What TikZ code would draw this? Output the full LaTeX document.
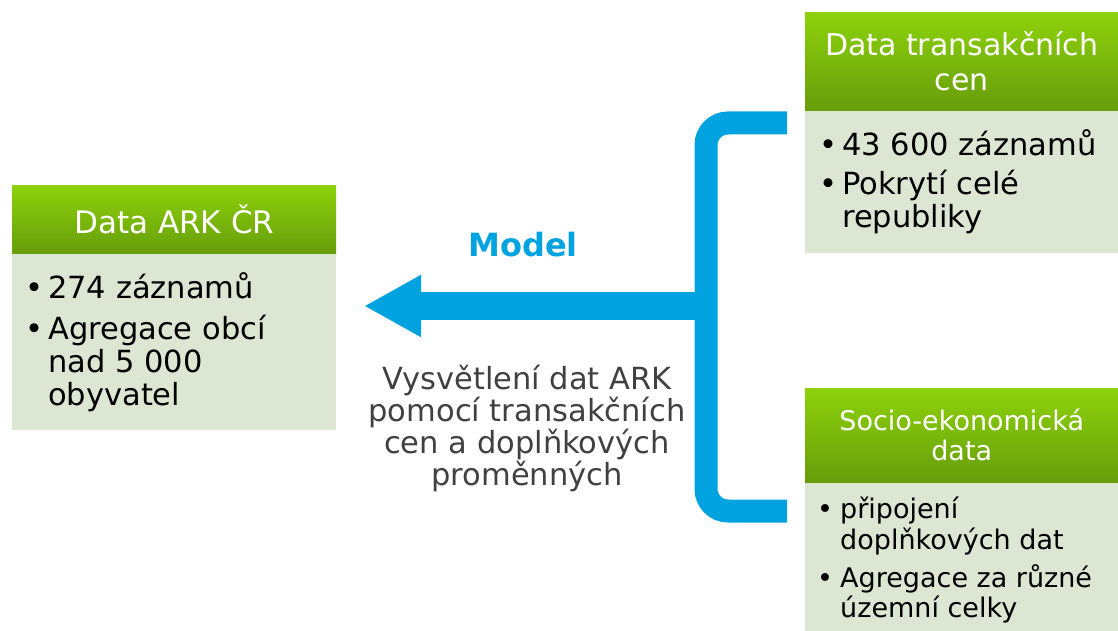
\documentclass[tikz,border=0pt]{standalone}
\usepackage{fontspec}
\setmainfont{DejaVu Sans}
\usetikzlibrary{positioning, arrows.meta}
\definecolor{headlight}{HTML}{8DD20B}
\definecolor{headdark}{HTML}{679D0B}
\definecolor{bodygreen}{HTML}{DCE6D2}
\definecolor{modelblue}{HTML}{00A3DF}
\definecolor{notegray}{HTML}{404040}

\newcommand{\listdot}{•}

\tikzset{
  header/.style={top color=headlight, bottom color=headdark, text=white,
    align=center, inner sep=0pt, anchor=north west},
  body/.style={fill=bodygreen, inner sep=0pt},
  list/.style={inner sep=0pt, anchor=north west, text=black},
  bracket/.style={draw=modelblue, line width=23pt, rounded corners=22pt},
  modelarrow/.style={draw=modelblue, line width=28pt,
    -{Triangle[length=57pt, width=58pt]}}
}

\begin{document}
\begin{tikzpicture}[x=1pt, y=-1pt]
\useasboundingbox (0,0) rectangle (1118,631);

% Data ARK
\node[header, minimum width=324pt, minimum height=68pt,
  font=\fontsize{31}{35}\selectfont] (arkhead) at (12,185) {Data ARK ČR};
\node[body, minimum width=324pt, minimum height=176pt, below=0pt of arkhead] (arkbody) {};
\node[list, font=\fontsize{30.5}{33}\selectfont] (arklist) at (25,272) {%
  \begin{tabular}{@{}p{23pt}@{}l@{}}
  \listdot & 274 záznamů\\[7pt]
  \listdot & Agregace obcí\\
    & nad 5 000\\
    & obyvatel
  \end{tabular}};

% transakcni ceny
\node[header, minimum width=313pt, minimum height=98pt,
  font=\fontsize{30}{35}\selectfont] (cenhead) at (805,12) {Data transakčních\\cen};
\node[body, minimum width=313pt, minimum height=142pt, below=0pt of cenhead] (cenbody) {};
\node[list, font=\fontsize{30.5}{33}\selectfont] (cenlist) at (819,129) {%
  \begin{tabular}{@{}p{23pt}@{}l@{}}
  \listdot & 43 600 záznamů\\[5pt]
  \listdot & Pokrytí celé\\
    & republiky
  \end{tabular}};

% socio-ekonomicka data
\node[header, minimum width=313pt, minimum height=94pt,
  font=\fontsize{27}{30}\selectfont] (sochead) at (805,388) {Socio-ekonomická\\data};
\node[body, minimum width=313pt, minimum height=149pt, below=0pt of sochead] (socbody) {};
\node[list, font=\fontsize{27}{29.5}\selectfont] (soclist) at (817,497) {%
  \begin{tabular}{@{}p{23pt}@{}l@{}}
  \listdot & připojení\\
    & doplňkových dat\\[6pt]
  \listdot & Agregace za různé\\
    & územní celky
  \end{tabular}};

% model
\coordinate (topend) at (787,123);
\coordinate (botend) at (787,511);
\draw[bracket] (topend) -- (706,123) -- (706,511) -- (botend);
\coordinate (fork) at (712,306);
\coordinate (tip) at (364,306);
\draw[modelarrow] (fork) -- (tip);

\node[font=\bfseries\fontsize{32}{36}\selectfont, text=modelblue] (model) at (523,245) {Model};
\node[align=center, text=notegray, font=\fontsize{30.5}{32}\selectfont] (explain) at (527,428)
  {Vysvětlení dat ARK\\pomocí transakčních\\cen a doplňkových\\proměnných};
\end{tikzpicture}
\end{document}
